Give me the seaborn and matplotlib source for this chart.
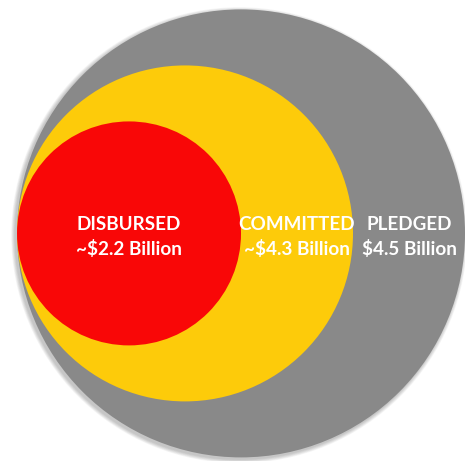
import matplotlib
matplotlib.use("Agg")
import matplotlib.pyplot as plt
from matplotlib.patches import Circle
import seaborn as sns

# Funding stages, outermost first
stages = ["PLEDGED", "COMMITTED", "DISBURSED"]
amounts = [4.5, 4.3, 2.2]
amount_labels = ["$4.5 Billion", "~$4.3 Billion", "~$2.2 Billion"]
stage_colors = ["#898989", "#FDCB0A", "#F90707"]

sns.set_theme(style="white")
plt.rcParams["font.family"] = ["Lato", "DejaVu Sans"]

fig = plt.figure(figsize=(4.65, 4.61), dpi=100)
ax = fig.add_axes([0, 0, 1, 1])
ax.set_xlim(-0.076, 2.0)
ax.set_ylim(-1.016, 1.042)
ax.set_aspect("equal")
ax.axis("off")

# Nested circles tangent on the left; each level steps the radius down by a quarter
order = sorted(range(len(amounts)), key=lambda i: -amounts[i])
radii = {}
for level, i in enumerate(order):
    radii[i] = 1.0 - 0.25 * level

# soft drop shadow on the lower-left of the outer circle
outer = order[0]
for k in range(6):
    ax.add_patch(Circle((radii[outer] - 0.008, -0.008), radii[outer] + 0.003 * (6 - k),
                        facecolor="black", edgecolor="none", alpha=0.04, zorder=1))

for i in order:
    r = radii[i]
    ax.add_patch(Circle((r, 0), r, facecolor=stage_colors[i], edgecolor="none", zorder=2))

# Labels sit in the ring band to the right of the next inner circle
for pos, i in enumerate(order):
    outer_edge = 2 * radii[i]
    inner_edge = 2 * radii[order[pos + 1]] if pos + 1 < len(order) else 0.0
    x = (outer_edge + inner_edge) / 2
    ax.text(x, 0.016, stages[i], color="white", fontsize=13.6, fontweight="bold",
            ha="center", va="baseline", zorder=3)
    ax.text(x, -0.096, amount_labels[i], color="white", fontsize=13.6, fontweight="bold",
            ha="center", va="baseline", zorder=3)

fig.savefig("out.png", dpi=100, facecolor="white")
